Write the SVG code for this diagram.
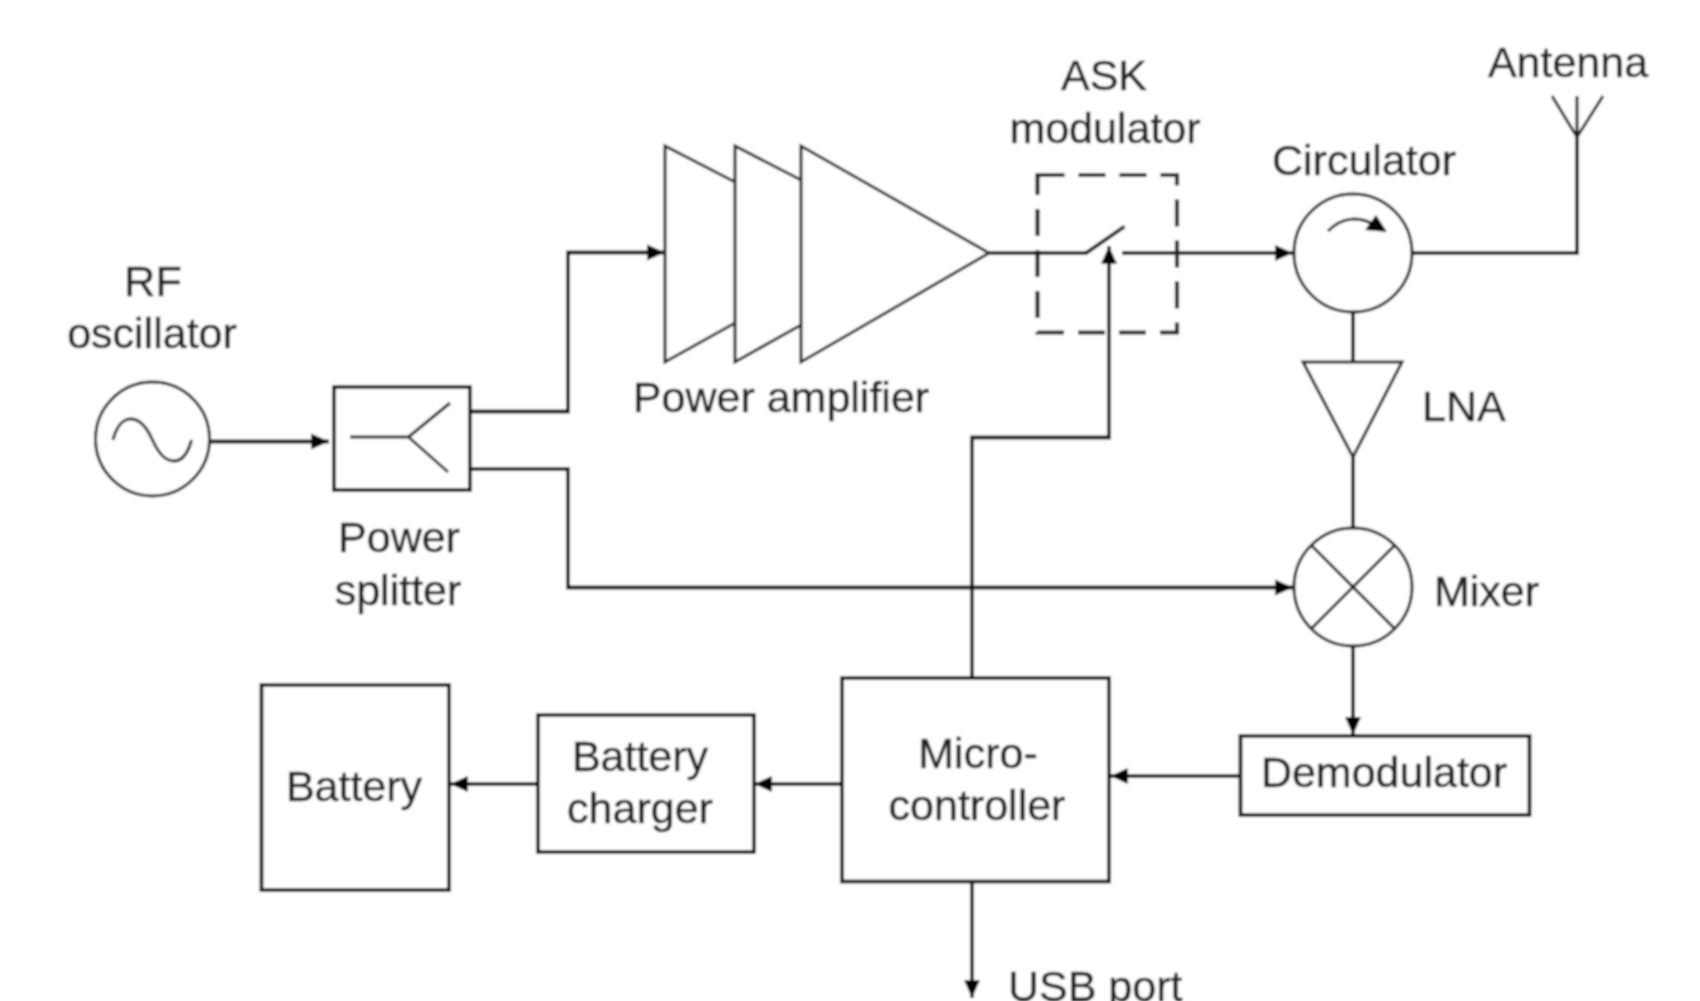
<svg xmlns="http://www.w3.org/2000/svg" width="1700" height="1001" viewBox="0 0 1700 1001">
<style>
.s{fill:none;stroke:#111;stroke-width:3.8;stroke-linejoin:miter}
.n{fill:none;stroke:#1a1a1a;stroke-width:3}
.c{fill:none;stroke:#111;stroke-width:3.8}
.a{marker-end:url(#arrow)}
.d{fill:none;stroke:#222;stroke-width:4.2;stroke-dasharray:27 14}
text{font-family:"Liberation Sans",Arial,sans-serif;font-size:43px;fill:#222;stroke:#222;stroke-width:.5px;text-anchor:middle}
.l{text-anchor:start}
</style>
<defs>
<marker id="arrow" markerUnits="userSpaceOnUse" markerWidth="20" markerHeight="18" refX="18" refY="9" orient="auto">
<path d="M0 1L18 9L0 17Z" fill="#000"/>
</marker>
<filter id="soft" x="0" y="0" width="100%" height="100%" filterUnits="objectBoundingBox"><feGaussianBlur stdDeviation="0.8"/></filter>
</defs>
<g filter="url(#soft)">
<rect width="1700" height="1001" fill="#fff"/>
<g id="connectors">
<path class="c a" d="M209 441.500H329"/>
<path class="c a" d="M470 411.500H568V252.500H665"/>
<path class="c" d="M470 469H568V587.500H972"/>
<path class="c a" d="M972 587.500H1293"/>
<path class="c" d="M989 253H1086L1124.500 226.500"/>
<path class="c a" d="M1122 253H1293"/>
<path class="c a" d="M972 678V437.500H1109V246"/>
<path class="c" d="M1412 253H1577V137"/>
<path class="c" d="M1353 312V362"/>
<path class="c" d="M1353 457V527"/>
<path class="c a" d="M1353 646V735"/>
<path class="c a" d="M1240 776H1110"/>
<path class="c a" d="M842 784H754"/>
<path class="c a" d="M539 784H450"/>
<path class="c a" d="M972 882V998"/>
</g>
<g id="rf-oscillator">
<circle class="n" cx="152.500" cy="439" r="57"/>
<path class="n" d="M113 440C120 412 140 412 152.500 440C165 468 184 468 191.500 440"/>
<text x="153" y="296">RF</text>
<text x="152" y="348">oscillator</text>
</g>
<g id="power-splitter">
<rect class="s" x="334" y="387" width="136" height="103"/>
<path class="n" d="M350 437H408.500L450 403M408.500 437L448 472"/>
<text x="399" y="552">Power</text>
<text x="398" y="605">splitter</text>
</g>
<g id="power-amplifier">
<path class="n" d="M735 323L665 362V146L735 182"/>
<path class="n" d="M801 325L735 362V146L801 180"/>
<path class="n" d="M801 146V362L989 253Z"/>
<text x="781" y="412">Power amplifier</text>
</g>
<g id="ask-modulator">
<rect class="d" x="1037.500" y="175" width="139.500" height="157.500"/>
<text x="1104" y="90">ASK</text>
<text x="1105" y="143">modulator</text>
</g>
<g id="circulator">
<circle class="n" cx="1353" cy="253" r="59"/>
<path class="n" d="M1328 231C1342 217 1360 215 1376 226"/>
<path d="M1387 232L1365 230L1376 215Z" fill="#000"/>
<text x="1364" y="175">Circulator</text>
</g>
<g id="antenna">
<path class="n" d="M1577 137V96M1552 96L1577 137L1603 96"/>
<text x="1568" y="77">Antenna</text>
</g>
<g id="lna">
<path class="n" d="M1303 362H1402L1353 457Z"/>
<text class="l" x="1422" y="421">LNA</text>
</g>
<g id="mixer">
<circle class="n" cx="1353" cy="587" r="59"/>
<path class="n" d="M1312 546L1394 628M1394 546L1312 628"/>
<text class="l" x="1434" y="606">Mixer</text>
</g>
<g id="demodulator">
<rect class="s" x="1240.500" y="736" width="289" height="79"/>
<text x="1384" y="787">Demodulator</text>
</g>
<g id="microcontroller">
<rect class="s" x="842" y="678" width="267" height="203.500"/>
<text x="978" y="768">Micro-</text>
<text x="977" y="820">controller</text>
</g>
<g id="battery-charger">
<rect class="s" x="538" y="715" width="216" height="137"/>
<text x="640" y="771">Battery</text>
<text x="640" y="823">charger</text>
</g>
<g id="battery">
<rect class="s" x="261.500" y="685" width="187.500" height="205"/>
<text x="354" y="801">Battery</text>
</g>
<g id="usb-port">
<text class="l" x="1008" y="1001">USB port</text>
</g>
</g>
</svg>
